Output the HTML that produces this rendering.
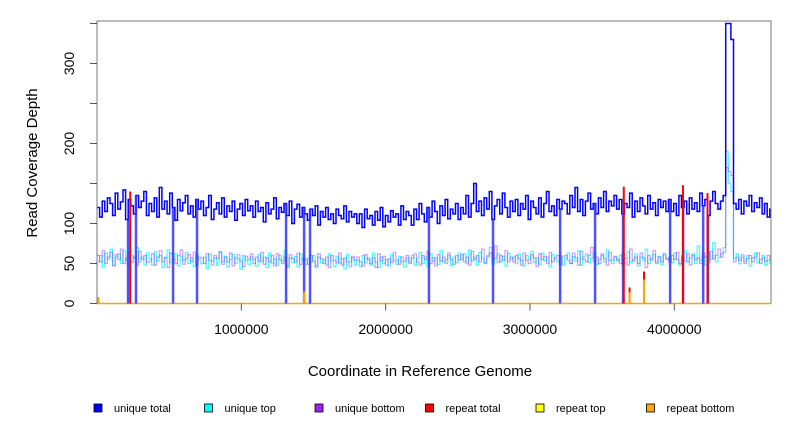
<!DOCTYPE html>
<html><head><meta charset="utf-8"><style>
body{margin:0;background:#fff}
svg{display:block;font-family:"Liberation Sans",sans-serif}
</style></head><body>
<svg id="chart" width="792" height="432" viewBox="0 0 792 432">
<g id="plot"></g>
<g id="axes"></g>
<text x="420" y="376" font-size="15" text-anchor="middle">Coordinate in Reference Genome</text>
<text transform="translate(37,163) rotate(-90)" font-size="15" text-anchor="middle">Read Coverage Depth</text>
<g id="legend"></g>
</svg>
<script>
const binSize = 18000;
const uniqueTotal = [
120,108,128,115,132,125,110,138,118,127,142,105,130,122,112,135,120,128,140,110,
125,115,132,108,145,118,128,112,138,120,104,130,116,126,135,112,122,108,130,118,
128,110,120,135,105,118,126,112,132,108,122,115,128,104,118,125,110,130,116,122,
108,128,115,120,102,126,112,118,132,106,120,114,125,110,128,100,118,124,108,120,
112,104,118,110,122,98,115,108,120,105,112,100,118,110,106,122,102,115,108,112,
100,112,95,118,106,110,98,115,104,120,96,110,102,116,108,112,98,122,105,115,
110,98,118,105,125,112,102,120,108,128,115,100,122,110,130,106,118,112,125,105,
120,112,135,108,125,150,115,128,110,132,118,140,105,122,130,112,138,120,108,128,
115,130,110,125,118,135,105,128,120,112,132,108,125,140,115,122,110,130,118,128,
125,112,135,120,145,115,130,110,128,138,118,125,112,132,120,140,115,128,122,135,
118,130,112,125,120,138,108,128,115,132,122,112,135,118,126,110,130,120,128,115,
130,115,125,110,135,120,128,112,132,118,126,115,138,122,130,110,128,140,125,118,
128,135,350,350,330,125,118,130,112,128,122,135,115,126,120,132,112,125,108,118];
const uniqueTop = [
52,60,45,63,55,68,48,58,62,50,66,54,47,60,57,70,52,58,49,63,
56,48,65,53,60,45,58,67,51,55,62,47,59,54,64,50,57,46,61,55,
50,58,44,62,53,57,48,64,52,59,46,55,61,50,56,43,60,54,49,58,
55,47,61,52,58,45,63,50,56,48,60,53,66,47,57,51,59,46,62,54,
49,57,52,60,45,58,51,55,48,62,53,46,59,50,56,44,61,52,57,48,
54,46,60,51,57,48,63,52,45,58,50,55,47,61,53,49,59,52,46,57,
52,60,48,56,64,50,58,46,62,53,57,49,66,52,55,60,47,58,51,63,
55,62,50,67,53,58,48,64,56,51,60,70,49,57,62,52,59,47,63,55,
58,50,62,54,47,60,55,65,51,57,49,63,53,58,46,61,55,52,60,48,
56,63,50,59,53,66,48,58,62,51,57,64,49,55,60,52,67,54,50,58,
53,60,48,57,65,51,55,62,47,58,54,68,50,56,61,52,59,49,63,55,
58,51,63,55,48,60,66,52,57,62,50,72,54,59,48,63,55,76,52,58,
62,70,190,150,140,56,62,50,58,53,60,47,57,63,51,55,60,48,54,50];
const uniqueBottom = [
60,52,66,50,58,64,47,61,55,68,50,57,63,52,58,48,65,55,60,51,
53,62,48,58,66,52,57,45,63,55,50,60,67,49,56,61,53,64,48,58,
57,50,62,54,48,60,56,65,49,58,52,63,47,57,61,53,46,59,55,62,
50,58,53,64,49,57,52,60,47,62,55,50,58,45,61,56,52,63,49,57,
55,49,60,53,47,62,56,50,58,45,60,54,51,63,48,57,52,46,59,54,
58,52,47,61,55,50,57,45,62,53,59,48,56,51,64,54,49,58,53,60,
50,57,62,52,48,60,55,65,50,57,47,61,53,58,50,63,55,49,60,54,
61,52,58,48,65,55,60,52,68,50,58,63,55,72,51,60,54,66,52,58,
52,60,56,48,63,54,50,61,57,46,62,55,59,50,64,52,57,60,49,58,
60,54,50,63,57,48,65,55,52,60,70,53,58,50,62,56,48,64,54,59,
55,50,62,56,48,68,53,58,50,63,57,45,60,54,66,50,58,52,61,56,
52,60,55,64,50,58,53,62,48,60,55,57,50,63,58,52,65,56,60,68,
58,64,170,165,160,52,58,54,61,50,56,60,52,58,63,50,57,53,60,55];
const dropCoords = [215000,270000,527000,693000,1310000,1435000,1476000,2300000,2744000,3209000,3451000,3645000,3971000,4061000,4200000,4234000];
const repeatTotalCoords = [230000,3650000,4060000,4230000,3690000,3790000];
const repeatTotalValues = [140,146,148,138,20,40];
const repeatBottomCoords = [10000,1435000,3690000,3790000];
const repeatBottomValues = [8,15,14,30];
const xTicks = [1000000,2000000,3000000,4000000];
const yTicks = [0,50,100,150,200,250,300,350];
const yLabels = [0,50,100,200,300];
const legendLabels = ["unique total","unique top","unique bottom","repeat total","repeat top","repeat bottom"];
const legendColors = ["#0000ff","#00ffff","#a020f0","#ff0000","#ffff00","#ffa500"];

const X0=97, X1=771, Y0=303.5, XMAX=4670000;
const sx=v=>X0+Math.min(v,XMAX)/XMAX*(X1-X0);
const sy=v=>Y0-v*0.8;
const NS="http://www.w3.org/2000/svg";
function mk(tag,attrs,parent){const e=document.createElementNS(NS,tag);for(const k in attrs)e.setAttribute(k,attrs[k]);parent.appendChild(e);return e;}
const plot=document.getElementById('plot'), axes=document.getElementById('axes'), legend=document.getElementById('legend');

function stepPath(vals){let d='';vals.forEach((v,i)=>{const xa=sx(i*binSize),xb=sx((i+1)*binSize);d+=(i?'L':'M')+xa.toFixed(1)+','+sy(v).toFixed(1)+'L'+xb.toFixed(1)+','+sy(v).toFixed(1);});return d;}
const base=mk('line',{x1:X0,x2:X1,y1:Y0,y2:Y0,stroke:'#ffa500','stroke-width':1.5},plot);


const pTop=mk('path',{d:stepPath(uniqueTop),fill:'none',stroke:'#00ffff','stroke-opacity':0.75,'stroke-width':1.2},plot);


const pBot=mk('path',{d:stepPath(uniqueBottom),fill:'none',stroke:'#a020f0','stroke-opacity':0.45,'stroke-width':1.2},plot);


const pTot=mk('path',{d:stepPath(uniqueTotal),fill:'none',stroke:'#0000ff','stroke-width':1.5},plot);


dropCoords.forEach(c=>{const i=Math.floor(c/binSize);const v=uniqueTotal[i];
 const l=mk('line',{x1:sx(c),x2:sx(c),y1:sy(v),y2:Y0,stroke:'#3333ff','stroke-width':2.5,'stroke-opacity':0.85},plot);
 
 });
repeatTotalCoords.forEach((c,i)=>{const l=mk('line',{x1:sx(c),x2:sx(c),y1:sy(repeatTotalValues[i]),y2:Y0,stroke:'#ff0000','stroke-width':2},plot);
 
 });
repeatBottomCoords.forEach((c,i)=>{const l=mk('line',{x1:sx(c),x2:sx(c),y1:sy(repeatBottomValues[i]),y2:Y0,stroke:'#ffa500','stroke-width':2},plot);
 
 });
const box=mk('path',{d:`M${X0},${Y0}V21H${X1}V${Y0}`,fill:'none',stroke:'#777','stroke-width':1},axes);


yTicks.forEach(t=>{const l=mk('line',{x1:X0-7,x2:X0,y1:sy(t),y2:sy(t),stroke:'#555'},axes);
 
 });
yLabels.forEach(t=>{const e=mk('text',{transform:`translate(74,${sy(t)}) rotate(-90)`,'font-size':14,'text-anchor':'middle'},axes);e.textContent=t;
 
 });
xTicks.forEach(t=>{const l=mk('line',{x1:sx(t),x2:sx(t),y1:Y0,y2:Y0+7,stroke:'#555'},axes);
 
 
 const e=mk('text',{x:sx(t),y:334,'font-size':14,'text-anchor':'middle'},axes);e.textContent=t;
 
 });
legendLabels.forEach((lab,i)=>{const x=94+i*110.5;
 const r=mk('rect',{x:x,y:404,width:8,height:8,fill:legendColors[i],stroke:'#000','stroke-width':0.8},legend);
 
 
 const t=mk('text',{x:x+20,y:412,'font-size':11},legend);t.textContent=lab;
 
 });
</script>
</body></html>
